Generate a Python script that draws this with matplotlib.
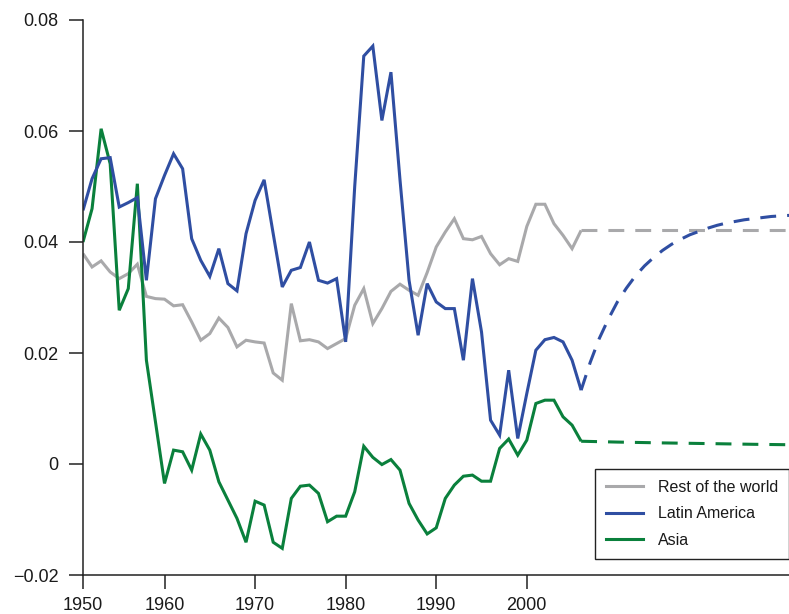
import matplotlib
matplotlib.use("Agg")
import matplotlib.pyplot as plt
from matplotlib.lines import Line2D

plt.rcParams['font.family'] = ['Liberation Sans', 'DejaVu Sans']

# Observed series, one value per year
years = list(range(1951, 2007))

rest_of_world = [
    0.0379, 0.0355, 0.0366, 0.0346, 0.0334, 0.0343, 0.0360, 0.0302, 0.0298, 0.0297,
    0.0285, 0.0287, 0.0256, 0.0223, 0.0235, 0.0263, 0.0246, 0.0211, 0.0223, 0.0220,
    0.0218, 0.0164, 0.0151, 0.0289, 0.0222, 0.0224, 0.0220, 0.0208, 0.0217, 0.0226,
    0.0286, 0.0316, 0.0253, 0.0280, 0.0311, 0.0324, 0.0313, 0.0304, 0.0345, 0.0391,
    0.0418, 0.0442, 0.0406, 0.0404, 0.0410, 0.0379, 0.0359, 0.0370, 0.0365, 0.0428,
    0.0468, 0.0468, 0.0433, 0.0412, 0.0388, 0.0421,
]

latin_america = [
    0.0457, 0.0514, 0.0550, 0.0552, 0.0463, 0.0471, 0.0480, 0.0331, 0.0478, 0.0520,
    0.0559, 0.0532, 0.0406, 0.0367, 0.0338, 0.0388, 0.0325, 0.0312, 0.0415, 0.0475,
    0.0512, 0.0415, 0.0319, 0.0349, 0.0354, 0.0400, 0.0331, 0.0326, 0.0334, 0.0220,
    0.0500, 0.0735, 0.0753, 0.0619, 0.0706, 0.0512, 0.0331, 0.0232, 0.0325, 0.0292,
    0.0280, 0.0280, 0.0187, 0.0334, 0.0238, 0.0079, 0.0052, 0.0169, 0.0046, 0.0127,
    0.0205, 0.0224, 0.0228, 0.0220, 0.0187, 0.0133,
]

asia = [
    0.0400, 0.0460, 0.0604, 0.0541, 0.0277, 0.0316, 0.0505, 0.0187, 0.0076, -0.0035,
    0.0025, 0.0022, -0.0011, 0.0054, 0.0025, -0.0032, -0.0065, -0.0098, -0.0141, -0.0067,
    -0.0074, -0.0141, -0.0152, -0.0062, -0.0040, -0.0038, -0.0053, -0.0104, -0.0094, -0.0094,
    -0.0050, 0.0032, 0.0012, -0.0001, 0.0008, -0.0011, -0.0071, -0.0101, -0.0126, -0.0115,
    -0.0062, -0.0038, -0.0022, -0.0020, -0.0031, -0.0031, 0.0028, 0.0045, 0.0016, 0.0043,
    0.0109, 0.0115, 0.0115, 0.0085, 0.0070, 0.0041,
]

# Projected paths
latin_proj_years = list(range(2006, 2031))
latin_proj = [
    0.0133, 0.0183, 0.0226, 0.0261, 0.0292, 0.0317, 0.0339, 0.0357, 0.0372, 0.0385,
    0.0396, 0.0405, 0.0413, 0.0419, 0.0425, 0.0430, 0.0434, 0.0437, 0.0440, 0.0442,
    0.0444, 0.0446, 0.0447, 0.0448, 0.0449,
]
rest_proj_years = [2006, 2030]
rest_proj = [0.0421, 0.0421]
asia_proj_years = [2006, 2010, 2015, 2020, 2025, 2030]
asia_proj = [0.0041, 0.00395, 0.0038, 0.00368, 0.00355, 0.00345]

series_labels = ['Rest of the world', 'Latin America', 'Asia']
x_tick_pos = [1951, 1960, 1970, 1980, 1990, 2000]
x_tick_labels = ['1950', '1960', '1970', '1980', '1990', '2000']
y_ticks = [-0.02, 0.0, 0.02, 0.04, 0.06, 0.08]
y_tick_labels = ['\u22120.02', '0', '0.02', '0.04', '0.06', '0.08']

GREY = '#a9a9ab'
BLUE = '#2f4ea2'
GREEN = '#0a803c'
LW = 2.2
DASH = (5.2, 3.6)

fig = plt.figure(figsize=(7.89, 6.14), dpi=100)
ax = fig.add_axes([83 / 789, 39 / 614, 1 - 83 / 789, (575 - 20) / 614])

line_kw = dict(lw=LW, solid_joinstyle='miter', dash_joinstyle='miter',
               solid_capstyle='butt', dash_capstyle='butt')

ax.plot(rest_proj_years, rest_proj, color=GREY, dashes=DASH, **line_kw)
ax.plot(latin_proj_years, latin_proj, color=BLUE, dashes=DASH, **line_kw)
ax.plot(asia_proj_years, asia_proj, color=GREEN, dashes=DASH, **line_kw)

ax.plot(years, rest_of_world, color=GREY, **line_kw)
ax.plot(years, asia, color=GREEN, **line_kw)
ax.plot(years, latin_america, color=BLUE, **line_kw)

ax.set_xlim(1951.0, 2028.95)
ax.set_ylim(-0.02, 0.08)

for side in ('top', 'right'):
    ax.spines[side].set_visible(False)
for side in ('left', 'bottom'):
    ax.spines[side].set_linewidth(1.1)
    ax.spines[side].set_color('#222222')

ax.set_xticks(x_tick_pos)
ax.set_xticklabels(x_tick_labels)
ax.set_yticks(y_ticks)
ax.set_yticklabels(y_tick_labels)
ax.tick_params(axis='both', direction='out', length=10, width=1.1,
               color='#222222', labelsize=13, labelcolor='#1a1a1a')
ax.tick_params(axis='y', pad=7.5)
ax.tick_params(axis='x', pad=5.5)

handles = [Line2D([], [], color=c, lw=LW) for c in (GREY, BLUE, GREEN)]
leg = ax.legend(handles, series_labels, loc='lower right',
                bbox_to_anchor=(789 / 789, (614 - 558.5) / 614),
                bbox_transform=fig.transFigure, borderaxespad=0,
                fontsize=11.5, handlelength=2.36, handletextpad=0.94,
                labelspacing=0.72, borderpad=0.66, fancybox=False,
                framealpha=1, edgecolor='#222222')
leg.get_frame().set_linewidth(1.0)
for t in leg.get_texts():
    t.set_color('#1a1a1a')

fig.savefig('out.png', dpi=100)
